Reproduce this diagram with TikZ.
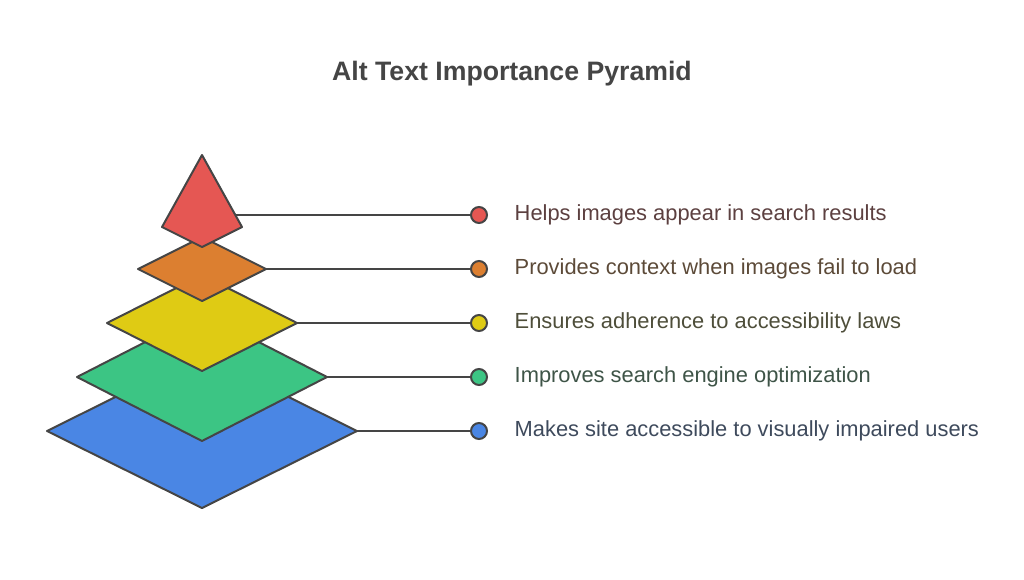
\documentclass[tikz,border=0pt]{standalone}
\usepackage{fontspec}
\setmainfont{Liberation Sans}
\usetikzlibrary{positioning}
\definecolor{edgegray}{HTML}{454545}
\definecolor{lred}{HTML}{E55753}
\definecolor{lorange}{HTML}{DC7F30}
\definecolor{lyellow}{HTML}{DFCB14}
\definecolor{lgreen}{HTML}{3CC584}
\definecolor{lblue}{HTML}{4A86E4}
\definecolor{tred}{HTML}{5C4040}
\definecolor{torange}{HTML}{5C4A38}
\definecolor{tyellow}{HTML}{4E4E3A}
\definecolor{tgreen}{HTML}{3E5447}
\definecolor{tblue}{HTML}{3E4A5C}

\begin{document}
\begin{tikzpicture}[x=0.75pt,y=-0.75pt,
	layer/.style={draw=edgegray,line width=1.5pt,line join=round},
	dot/.style={circle,draw=edgegray,line width=1.5pt,inner sep=0pt,minimum size=12pt},
	link/.style={draw=edgegray,line width=1.5pt},
	label/.style={anchor=west,font=\fontsize{16.4}{19}\selectfont}]
	\useasboundingbox (0,0) rectangle (1024,579);
	\node[font=\bfseries\fontsize{20}{24}\selectfont,text=edgegray] (title) at (512,74) {Alt Text Importance Pyramid};

	% layers, back to front
	\filldraw[layer,fill=lblue] (47,431) -- (202,354) -- (357,431) -- (202,508) -- cycle;
	\filldraw[layer,fill=lgreen] (77,377) -- (202,313) -- (327,377) -- (202,441) -- cycle;
	\filldraw[layer,fill=lyellow] (107,323) -- (202,275) -- (297,323) -- (202,371) -- cycle;
	\filldraw[layer,fill=lorange] (138,269) -- (202,237) -- (266,269) -- (202,301) -- cycle;
	\filldraw[layer,fill=lred] (202,155) -- (242,227) -- (202,247) -- (162,227) -- cycle;

	\coordinate (pRed) at (235,215);
	\coordinate (pOrange) at (266,269);
	\coordinate (pYellow) at (297,323);
	\coordinate (pGreen) at (327,377);
	\coordinate (pBlue) at (357,431);

	\node[dot,fill=lred] (dRed) at (479,215) {};
	\node[dot,fill=lorange] (dOrange) at (479,269) {};
	\node[dot,fill=lyellow] (dYellow) at (479,323) {};
	\node[dot,fill=lgreen] (dGreen) at (479,377) {};
	\node[dot,fill=lblue] (dBlue) at (479,431) {};

	\node[label,text=tred] (tRed) at (510,215) {Helps images appear in search results};
	\node[label,text=torange] (tOrange) at (510,269) {Provides context when images fail to load};
	\node[label,text=tyellow] (tYellow) at (510,323) {Ensures adherence to accessibility laws};
	\node[label,text=tgreen] (tGreen) at (510,377) {Improves search engine optimization};
	\node[label,text=tblue] (tBlue) at (510,431) {Makes site accessible to visually impaired users};

	\path[link]
	(pRed) edge (dRed)
	(pOrange) edge (dOrange)
	(pYellow) edge (dYellow)
	(pGreen) edge (dGreen)
	(pBlue) edge (dBlue)
	;
\end{tikzpicture}
\end{document}
